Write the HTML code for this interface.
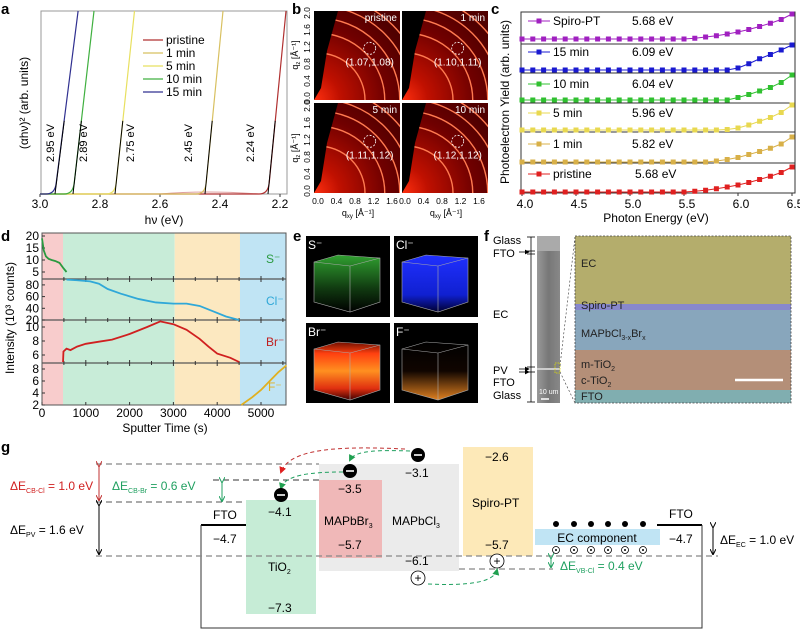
<!DOCTYPE html>
<html><head><meta charset="utf-8"><style>
html,body{margin:0;padding:0;background:#fff}
svg{display:block;font-family:"Liberation Sans",Arial,sans-serif}
text{font-family:"Liberation Sans",Arial,sans-serif}
</style></head><body>
<svg id="fig" xmlns="http://www.w3.org/2000/svg" width="800" height="631" viewBox="0 0 800 631">
<defs>
<radialGradient id="gb" cx="0" cy="1" r="1.2"><stop offset="0" stop-color="#ff3010"/><stop offset="0.25" stop-color="#c01000"/><stop offset="0.7" stop-color="#700000"/><stop offset="1" stop-color="#500000"/></radialGradient>
<linearGradient id="cubeS" x1="0" y1="0" x2="0" y2="1"><stop offset="0" stop-color="#30a030"/><stop offset="0.6" stop-color="#103810"/><stop offset="1" stop-color="#000"/></linearGradient>
<linearGradient id="cubeCl" x1="0" y1="0" x2="0" y2="1"><stop offset="0" stop-color="#2030ff"/><stop offset="0.7" stop-color="#1020d0"/><stop offset="1" stop-color="#000030"/></linearGradient>
<linearGradient id="cubeBr" x1="0" y1="0" x2="0" y2="1"><stop offset="0" stop-color="#701000"/><stop offset="0.2" stop-color="#ff4010"/><stop offset="0.5" stop-color="#ff9020"/><stop offset="0.8" stop-color="#e03010"/><stop offset="1" stop-color="#400000"/></linearGradient>
<linearGradient id="cubeF" x1="0" y1="0" x2="0" y2="1"><stop offset="0" stop-color="#000"/><stop offset="0.5" stop-color="#100500"/><stop offset="1" stop-color="#e08020"/></linearGradient>
<linearGradient id="sem" x1="0" y1="0" x2="1" y2="0"><stop offset="0" stop-color="#999"/><stop offset="0.5" stop-color="#777"/><stop offset="1" stop-color="#888"/></linearGradient>
<marker id="ah" markerWidth="6" markerHeight="6" refX="5" refY="3" orient="auto"><path d="M0,0 L6,3 L0,6 z" fill="#000"/></marker>
<marker id="ahr" markerWidth="7" markerHeight="7" refX="5" refY="3.5" orient="auto"><path d="M0,0 L7,3.5 L0,7 z" fill="#e02020"/></marker>
<marker id="ahg" markerWidth="7" markerHeight="7" refX="5" refY="3.5" orient="auto"><path d="M0,0 L7,3.5 L0,7 z" fill="#20a050"/></marker>
<marker id="ahrr" markerWidth="6" markerHeight="6" refX="5" refY="3" orient="auto"><path d="M0,0 L6,3 L0,6" fill="none" stroke="#c03030"/></marker>
<marker id="ahgg" markerWidth="6" markerHeight="6" refX="5" refY="3" orient="auto"><path d="M0,0 L6,3 L0,6" fill="none" stroke="#20a060"/></marker>
<marker id="ahk" markerWidth="6" markerHeight="6" refX="5" refY="3" orient="auto"><path d="M0,0 L6,3 L0,6" fill="none" stroke="#000"/></marker>
<clipPath id="cb1"><rect x="314" y="11" width="86" height="89"/></clipPath>
<clipPath id="cb2"><rect x="402" y="11" width="86" height="89"/></clipPath>
<clipPath id="cb3"><rect x="314" y="103" width="86" height="90"/></clipPath>
<clipPath id="cb4"><rect x="402" y="103" width="86" height="90"/></clipPath>
</defs>

<g font-weight="bold" font-size="15">
<text x="1" y="14">a</text><text x="292" y="14">b</text><text x="491" y="14">c</text>
<text x="1" y="241">d</text><text x="293" y="241">e</text><text x="484" y="241">f</text>
<text x="1" y="452">g</text>
</g>

<g id="pa"></g>
<g id="pb"></g>
<g id="pc"></g>
<g id="pd"></g>

<g font-size="12" fill="#fff">
<rect x="306" y="236" width="84" height="81" fill="#000"/>
<rect x="394" y="236" width="84" height="81" fill="#000"/>
<rect x="306" y="323" width="84" height="80" fill="#000"/>
<rect x="394" y="323" width="84" height="80" fill="#000"/>
<polygon points="314,262 338,255 380,258 380,302 350,312 314,302" fill="url(#cubeS)"/>
<polygon points="402,262 426,255 468,258 468,302 438,312 402,302" fill="url(#cubeCl)"/>
<polygon points="314,349 338,342 380,345 380,390 350,400 314,390" fill="url(#cubeBr)"/>
<polygon points="402,349 426,342 468,345 468,390 438,400 402,390" fill="url(#cubeF)"/>
<g fill="none" stroke="#aaa" stroke-width="0.6">
<polygon points="314,262 338,255 380,258 380,302 350,312 314,302"/><polygon points="402,262 426,255 468,258 468,302 438,312 402,302"/>
<polygon points="314,349 338,342 380,345 380,390 350,400 314,390"/><polygon points="402,349 426,342 468,345 468,390 438,400 402,390"/>
<line x1="350" y1="266" x2="350" y2="312"/><line x1="438" y1="266" x2="438" y2="312"/>
<line x1="350" y1="353" x2="350" y2="400"/><line x1="438" y1="353" x2="438" y2="400"/>
<polyline points="314,262 350,266 380,258"/><polyline points="402,262 438,266 468,258"/>
<polyline points="314,349 350,353 380,345"/><polyline points="402,349 438,353 468,345"/>
</g>
<text x="308" y="249">S⁻</text><text x="396" y="249">Cl⁻</text><text x="308" y="336">Br⁻</text><text x="396" y="336">F⁻</text>
</g>

<g font-size="11">
<rect x="537" y="236" width="23" height="167" fill="url(#sem)"/>
<rect x="537" y="236" width="23" height="15" fill="#aaa"/>
<rect x="537" y="368" width="23" height="2" fill="#ccc"/>
<rect x="555" y="363" width="5" height="10" fill="none" stroke="#dd0" stroke-dasharray="1.5,1" stroke-width="0.8"/>
<line x1="541" y1="399" x2="549" y2="399" stroke="#fff" stroke-width="1.5"/>
<text x="539" y="394" font-size="7" fill="#fff">10 um</text>
<g stroke="#000" stroke-width="0.8">
<line x1="531" y1="237" x2="531" y2="402"/>
<line x1="527" y1="237" x2="535" y2="237"/><line x1="527" y1="251" x2="535" y2="251"/><line x1="527" y1="254" x2="535" y2="254"/>
<line x1="527" y1="367" x2="535" y2="367"/><line x1="527" y1="372" x2="535" y2="372"/><line x1="527" y1="402" x2="535" y2="402"/>
<line x1="519" y1="252" x2="529" y2="252" marker-end="url(#ah)"/><line x1="519" y1="369" x2="529" y2="369" marker-end="url(#ah)"/><line x1="519" y1="372" x2="529" y2="372" marker-end="url(#ah)"/>
</g>
<text x="493" y="244">Glass</text><text x="493" y="257">FTO</text><text x="493" y="318">EC</text>
<text x="493" y="374">PV</text><text x="493" y="386">FTO</text><text x="493" y="399">Glass</text>
<line x1="560" y1="366" x2="575" y2="237" stroke="#333" stroke-dasharray="2,2" stroke-width="0.6"/>
<line x1="560" y1="372" x2="575" y2="403" stroke="#333" stroke-dasharray="2,2" stroke-width="0.6"/>
<g>
<rect x="575" y="236" width="216" height="68" fill="#b4ad6c"/>
<rect x="575" y="304" width="216" height="6" fill="#8888cc"/>
<rect x="575" y="310" width="216" height="40" fill="#88a6bc"/>
<rect x="575" y="350" width="216" height="40" fill="#b48f78"/>
<rect x="575" y="390" width="216" height="13" fill="#80aeb0"/>
<rect x="575" y="236" width="216" height="167" fill="none" stroke="#444" stroke-dasharray="2,1.5" stroke-width="0.8"/>
</g>
<g font-size="11" fill="#222">
<text x="581" y="267">EC</text><text x="581" y="309">Spiro-PT</text>
<text x="581" y="337">MAPbCl<tspan font-size="7" dy="3">3-x</tspan><tspan dy="-3">Br</tspan><tspan font-size="7" dy="3">x</tspan></text>
<text x="581" y="368">m-TiO<tspan font-size="7" dy="3">2</tspan></text>
<text x="581" y="384">c-TiO<tspan font-size="7" dy="3">2</tspan></text>
<text x="581" y="400">FTO</text>
</g>
<line x1="735" y1="380" x2="783" y2="380" stroke="#fff" stroke-width="2.5"/>
</g>

<g font-size="11">
<rect x="319" y="464" width="140" height="107" fill="#ebebeb"/>
<rect x="319" y="480" width="63" height="78" fill="#f0b8b8"/>
<rect x="246" y="500" width="70" height="114" fill="#c6ecd6"/>
<rect x="463" y="447" width="70" height="109" fill="#fde9b8"/>
<rect x="535" y="529" width="125" height="16" fill="#c0e4f4"/>
<g fill="none" stroke-width="1">
<line x1="201" y1="525" x2="246" y2="525" stroke="#000" stroke-width="2"/>
<line x1="657" y1="525" x2="702" y2="525" stroke="#000" stroke-width="2"/>
<polyline points="201,525 201,628 702,628 702,525" stroke="#333"/>
<line x1="96" y1="464" x2="319" y2="464" stroke="#888" stroke-dasharray="6,4" stroke-width="1.3"/>
<line x1="213" y1="480" x2="319" y2="480" stroke="#333" stroke-dasharray="6,4" stroke-width="1"/>
<line x1="96" y1="502" x2="246" y2="502" stroke="#555" stroke-dasharray="6,4" stroke-width="1"/>
<line x1="96" y1="556" x2="718" y2="556" stroke="#888" stroke-dasharray="6,4" stroke-width="1.3"/>
<line x1="459" y1="569" x2="553" y2="569" stroke="#888" stroke-dasharray="6,4" stroke-width="1.3"/>
<line x1="99" y1="466" x2="99" y2="500" stroke="#c03030" marker-start="url(#ahrr)" marker-end="url(#ahrr)"/>
<line x1="99" y1="505" x2="99" y2="554" stroke="#000" marker-start="url(#ahk)" marker-end="url(#ahk)"/>
<line x1="222" y1="482" x2="222" y2="501" stroke="#20a060" marker-start="url(#ahgg)" marker-end="url(#ahgg)"/>
<line x1="713" y1="527" x2="713" y2="554" stroke="#000" marker-start="url(#ahk)" marker-end="url(#ahk)"/>
<line x1="551" y1="558" x2="551" y2="567" stroke="#20a060" marker-start="url(#ahgg)" marker-end="url(#ahgg)"/>
<path d="M405,449 C340,446 290,448 281,472" stroke="#c03030" stroke-dasharray="4,3" marker-end="url(#ahr)"/>
<path d="M410,451 C380,450 355,450 350,460" stroke="#20a060" stroke-dasharray="4,3" marker-end="url(#ahg)"/>
<path d="M343,472 C310,472 285,475 281,488" stroke="#20a060" stroke-dasharray="4,3" marker-end="url(#ahg)"/>
<path d="M428,584 C470,586 494,582 497,570" stroke="#20a060" stroke-dasharray="4,3" marker-end="url(#ahg)"/>
</g>
<g>
<circle cx="418" cy="455" r="7" fill="#000"/><circle cx="350" cy="471" r="7" fill="#000"/><circle cx="281" cy="495" r="7" fill="#000"/>
<g stroke="#fff" stroke-width="1.6"><line x1="414" y1="455" x2="422" y2="455"/><line x1="346" y1="471" x2="354" y2="471"/><line x1="277" y1="495" x2="285" y2="495"/></g>
<g fill="#000"><circle cx="556" cy="524" r="3"/><circle cx="574" cy="524" r="3"/><circle cx="591" cy="524" r="3"/><circle cx="608" cy="524" r="3"/><circle cx="625" cy="524" r="3"/><circle cx="643" cy="524" r="3"/></g>
</g>
<g fill="#fff" stroke="#000" stroke-width="0.8">
<circle cx="497" cy="561" r="7"/><circle cx="418" cy="578" r="7"/>
<circle cx="556" cy="550" r="3.5"/><circle cx="574" cy="550" r="3.5"/><circle cx="591" cy="550" r="3.5"/><circle cx="608" cy="550" r="3.5"/><circle cx="625" cy="550" r="3.5"/><circle cx="643" cy="550" r="3.5"/>
</g>
<g fill="#000"><circle cx="556" cy="550" r="1"/><circle cx="574" cy="550" r="1"/><circle cx="591" cy="550" r="1"/><circle cx="608" cy="550" r="1"/><circle cx="625" cy="550" r="1"/><circle cx="643" cy="550" r="1"/></g>
<g font-size="12" text-anchor="middle"><text x="497" y="565">+</text><text x="418" y="582">+</text></g>
<g font-size="12">
<text x="10" y="490" fill="#d02020">ΔE<tspan font-size="7" dy="3">CB-Cl</tspan><tspan dy="-3"> = 1.0 eV</tspan></text>
<text x="112" y="490" fill="#20a060">ΔE<tspan font-size="7" dy="3">CB-Br</tspan><tspan dy="-3"> = 0.6 eV</tspan></text>
<text x="10" y="534">ΔE<tspan font-size="7" dy="3">PV</tspan><tspan dy="-3"> = 1.6 eV</tspan></text>
<text x="720" y="544">ΔE<tspan font-size="7" dy="3">EC</tspan><tspan dy="-3"> = 1.0 eV</tspan></text>
<text x="560" y="570" fill="#20a060">ΔE<tspan font-size="7" dy="3">VB-Cl</tspan><tspan dy="-3"> = 0.4 eV</tspan></text>
<text x="213" y="519">FTO</text><text x="213" y="543">−4.7</text>
<text x="268" y="516">−4.1</text><text x="268" y="571">TiO<tspan font-size="7" dy="3">2</tspan></text><text x="268" y="612">−7.3</text>
<text x="338" y="493">−3.5</text><text x="324" y="525">MAPbBr<tspan font-size="7" dy="3">3</tspan></text><text x="338" y="549">−5.7</text>
<text x="392" y="525">MAPbCl<tspan font-size="7" dy="3">3</tspan></text>
<text x="405" y="477">−3.1</text><text x="405" y="565">−6.1</text>
<text x="485" y="461">−2.6</text><text x="472" y="507">Spiro-PT</text><text x="485" y="549">−5.7</text>
<text x="597" y="542" text-anchor="middle">EC component</text>
<text x="669" y="518">FTO</text><text x="669" y="543">−4.7</text>
</g>
</g>
</svg>

<script>
const NS = 'http://www.w3.org/2000/svg';
function mk(tag, attrs, parent) {
  const e = document.createElementNS(NS, tag);
  for (const k in attrs) e.setAttribute(k, attrs[k]);
  parent.appendChild(e);
  return e;
}
function txt(parent, x, y, s, attrs) {
  const t = mk('text', Object.assign({x: x, y: y}, attrs || {}), parent);
  t.textContent = s;
  return t;
}

/* ---------- panel a data ---------- */
const aLabels = ['pristine', '1 min', '5 min', '10 min', '15 min'];
const aGaps = [2.24, 2.45, 2.75, 2.89, 2.95];
const aTopEnergy = [2.18, 2.39, 2.685, 2.82, 2.873];
const aColors = ['#b03030', '#d8c060', '#e8e060', '#40b040', '#303090'];
const aTicks = [3.0, 2.8, 2.6, 2.4, 2.2];
const aLabelOffset = [-18, -17, 15, 10, -5];

/* ---------- panel c data ---------- */
const cEnergy = [4.0,4.1,4.2,4.3,4.4,4.5,4.6,4.7,4.8,4.9,5.0,5.1,5.2,5.3,5.4,5.5,5.6,5.7,5.8,5.9,6.0,6.1,6.2,6.3,6.4,6.5];
const cNames = ['Spiro-PT', '15 min', '10 min', '5 min', '1 min', 'pristine'];
const cIP = ['5.68 eV', '6.09 eV', '6.04 eV', '5.96 eV', '5.82 eV', '5.68 eV'];
const cSpiro = [0,0,0,0,0,0,0,0,0,0,0,0,0,0,0,0,0.03,0.08,0.13,0.2,0.28,0.38,0.5,0.63,0.78,1.0];
const c15 = [0,0,0,0,0,0,0,0,0,0,0,0,0,0,0,0,0,0,0,0,0.08,0.25,0.45,0.62,0.8,1.0];
const c10 = [0,0,0,0,0,0,0,0,0,0,0,0,0,0,0,0,0,0,0,0,0.1,0.22,0.36,0.5,0.7,1.0];
const c5 = [0,0,0,0,0,0,0,0,0,0,0,0,0,0,0,0,0,0,0,0.02,0.08,0.2,0.35,0.5,0.7,1.0];
const c1 = [0,0,0,0,0,0,0,0,0,0,0,0,0,0,0,0,0,0,0.04,0.1,0.18,0.3,0.42,0.55,0.72,1.0];
const cPristine = [0,0,0,0,0,0,0,0,0,0,0,0,0,0,0,0,0.03,0.07,0.13,0.2,0.28,0.38,0.5,0.63,0.78,1.0];
const cColors = ['#a020c0', '#1a1ad0', '#30c030', '#e8d850', '#d8b048', '#e02020'];
const cTicks = [4.0, 4.5, 5.0, 5.5, 6.0, 6.5];

/* ---------- panel d data ---------- */
const dSTime = [0,40,90,150,220,300,400,480,560];
const dSVal = [19,14,11.5,10.5,10,9.6,8.8,6.8,5];
const dClTime = [560,800,1100,1300,1500,1800,2200,2600,3000,3300,3600,3900,4200,4500];
const dClVal = [89,88,86,82,73,65,56,50,48,48,44,35,26,20];
const dBrTime = [480,490,560,650,800,1000,1300,1600,2000,2400,2700,3000,3300,3600,3800,4000,4300,4500];
const dBrVal = [5,6.5,6.9,6.7,7.2,7.6,7.9,8.2,9.0,10.0,10.8,10.4,9.6,8.3,7.2,6.2,5.6,5.0];
const dFTime = [4550,4800,5000,5200,5400,5580];
const dFVal = [2,3.3,4.5,6,7.5,8.6];
const dXTicks = [0,1000,2000,3000,4000,5000];
const dSTicks = [5,10,15,20];
const dClTicks = [20,40,60,80];
const dBrTicks = [6,8,10];
const dFTicks = [2,4,6,8];

/* ---------- draw panel a ---------- */
(function(){
  const g = document.getElementById('pa');
  const L = 41, R = 287, T = 11, B = 194;
  const xA = v => 40 + (3.0 - v) * 300;
  const yA = f => B - f * (B - T);
  const frame = mk('rect', {x: L, y: T, width: R - L, height: B - T, fill: 'none', stroke: '#999'}, g);
  
  
  aTicks.forEach(v => {
    mk('line', {x1: xA(v), y1: B, x2: xA(v), y2: B + 3, stroke: '#333'}, g);
    const t = txt(g, xA(v), 208, v.toFixed(1), {'font-size': 12, 'text-anchor': 'middle'});
    
    
  });
  const xl = txt(g, 164, 224, 'hν (eV)', {'font-size': 12, 'text-anchor': 'middle'});
  
  
  const yl = txt(g, 0, 0, '(αhν)² (arb. units)', {'font-size': 12, 'text-anchor': 'middle', transform: 'translate(28,103) rotate(-90)'});
  
  
  mk('path', {d: 'M' + xA(2.6) + ',' + B + ' Q' + xA(2.45) + ',' + (B - 4) + ' ' + xA(2.27) + ',' + B, fill: 'none', stroke: '#e0a0a0', 'stroke-width': 1}, g);
  aGaps.forEach((gap, i) => {
    const top = aTopEnergy[i];
    const x0 = xA(gap + 0.03), xg = xA(gap), xt = xA(top);
    const p = mk('path', {d: 'M' + xA(3.0) + ',' + B + ' L' + x0 + ',' + B + ' Q' + xg + ',' + B + ' ' + xA(gap - 0.004) + ',' + yA(0.06) + ' L' + xt + ',' + T, fill: 'none', stroke: aColors[i], 'stroke-width': 1.2}, g);
    
    
    const tl = mk('line', {x1: xg, y1: B, x2: xg + (xt - xg) * 0.4, y2: yA(0.4), stroke: '#000', 'stroke-width': 1}, g);
    
    
    const lb = txt(g, 0, 0, gap.toFixed(2) + ' eV', {'font-size': 11, 'text-anchor': 'middle', transform: 'translate(' + (xg + aLabelOffset[i] + 4) + ',143) rotate(-90)'});
    
    
    const ly = 40 + i * 13;
    const ll = mk('line', {x1: 143, y1: ly, x2: 163, y2: ly, stroke: aColors[i], 'stroke-width': 1.3}, g);
    
    
    const lt = txt(g, 166, ly + 4, aLabels[i], {'font-size': 12});
    
    
  });
})();

/* ---------- draw panel b (GIWAXS images) ---------- */
(function(){
  const g = document.getElementById('pb');
  const imgs = [[314,11,86,89,'cb1','pristine','(1.07,1.08)'],[402,11,86,89,'cb2','1 min','(1.10,1.11)'],[314,103,86,90,'cb3','5 min','(1.11,1.12)'],[402,103,86,90,'cb4','10 min','(1.12,1.12)']];
  const s = 47;
  imgs.forEach(im => {
    const [x, y, w, h, clip, lab, pk] = im;
    const gg = mk('g', {'clip-path': 'url(#' + clip + ')'}, g);
    
    
    mk('rect', {x: x, y: y, width: w, height: h, fill: 'url(#gb)'}, gg);
    const ox = x + 4, oy = y + h;
    [1.0, 1.42, 1.74, 2.0, 2.25].forEach(r => {
      mk('circle', {cx: ox, cy: oy, r: r * s, fill: 'none', stroke: '#ff7a50', 'stroke-width': 1.4}, gg);
    });
    mk('polygon', {points: x + ',' + y + ' ' + (x + 24) + ',' + y + ' ' + (x + 13) + ',' + (y + 40) + ' ' + (x + 7) + ',' + (y + h - 12) + ' ' + x + ',' + (y + h), fill: '#000'}, gg);
    mk('circle', {cx: ox + 1.1 * s, cy: oy - 1.1 * s, r: 6, fill: 'none', stroke: '#fff', 'stroke-dasharray': '2,1.5', 'stroke-width': 0.8}, gg);
    txt(gg, x + w - 3, y + 10, lab, {'font-size': 10, fill: '#fff', 'text-anchor': 'end'});
    txt(gg, ox + 1.1 * s, oy - 1.1 * s + 17, pk, {'font-size': 10, fill: '#fff', 'text-anchor': 'middle'});
  });
  ['0.0','0.4','0.8','1.2','1.6'].forEach((t, i) => {
    [318, 405].forEach(x0 => txt(g, x0 + i * 18.5, 204, t, {'font-size': 8.5, 'text-anchor': 'middle'}));
  });
  [358, 446].forEach(cx => {
    const t = mk('text', {x: cx, y: 216, 'font-size': 9, 'text-anchor': 'middle'}, g);
    t.innerHTML = 'q<tspan font-size="6" dy="2">xy</tspan><tspan dy="-2"> [Å⁻¹]</tspan>';
  });
  ['0.0','0.4','0.8','1.2','1.6','2.0'].forEach((t, i) => {
    [98, 191].forEach(b => txt(g, 0, 0, t, {'font-size': 8.5, 'text-anchor': 'middle', transform: 'translate(310,' + (b - i * 17) + ') rotate(-90)'}));
  });
  [55, 148].forEach(cy => {
    const t = mk('text', {x: 0, y: 0, 'font-size': 9, 'text-anchor': 'middle', transform: 'translate(298,' + cy + ') rotate(-90)'}, g);
    t.innerHTML = 'q<tspan font-size="6" dy="2">z</tspan><tspan dy="-2"> [Å⁻¹]</tspan>';
  });
})();

/* ---------- draw panel c ---------- */
(function(){
  const g = document.getElementById('pc');
  const L = 521, R = 795, T = 12, B = 193;
  const xC = e => 522 + (e - 4.0) * 108;
  const baselines = [39, 70, 100, 130, 162, 192];
  const series = [cSpiro, c15, c10, c5, c1, cPristine];
  const labelY = [25, 56, 88, 117, 148, 178];
  const frame = mk('rect', {x: L, y: T, width: R - L, height: B - T, fill: 'none', stroke: '#333'}, g);
  
  
  [44, 73, 103, 132, 163].forEach(y => mk('line', {x1: L, y1: y, x2: R, y2: y, stroke: '#333'}, g));
  cTicks.forEach(v => {
    mk('line', {x1: xC(v), y1: B, x2: xC(v), y2: B + 3, stroke: '#333'}, g);
    const t = txt(g, xC(v) + 3, 208, v.toFixed(1), {'font-size': 12, 'text-anchor': 'middle'});
    
    
  });
  const xl = txt(g, 656, 222, 'Photon Energy (eV)', {'font-size': 12, 'text-anchor': 'middle'});
  
  
  const yl = txt(g, 0, 0, 'Photoelectron Yield (arb. units)', {'font-size': 12, 'text-anchor': 'middle', transform: 'translate(509,102) rotate(-90)'});
  
  
  series.forEach((vals, si) => {
    const yb = baselines[si];
    const pts = cEnergy.map((e, i) => xC(e) + ',' + (yb - vals[i] * 25));
    const pl = mk('polyline', {points: pts.join(' '), fill: 'none', stroke: cColors[si], 'stroke-width': 1}, g);
    
    
    cEnergy.forEach((e, i) => {
      const m = mk('rect', {x: xC(e) - 2.5, y: yb - vals[i] * 25 - 2.5, width: 5, height: 5, fill: cColors[si]}, g);
      
      
    });
    const ly = labelY[si];
    mk('line', {x1: 528, y1: ly - 4, x2: 550, y2: ly - 4, stroke: cColors[si]}, g);
    mk('rect', {x: 536.5, y: ly - 6.5, width: 5, height: 5, fill: cColors[si]}, g);
    const lt = txt(g, 553, ly, cNames[si], {'font-size': 12});
    
    
    const ip = txt(g, si === 5 ? 635 : 632, ly, cIP[si], {'font-size': 12});
    
    
  });
})();

/* ---------- draw panel d ---------- */
(function(){
  const g = document.getElementById('pd');
  const L = 42, R = 286;
  const xD = t => 42 + t * 0.0438;
  const yS = v => 272 - (v - 5) * 2.4;
  const yCl = v => 320 - (v - 20) * 0.585;
  const yBr = v => 355 - (v - 6) * 7;
  const yF = v => 405 - (v - 2) * 6;
  const bands = [[0, 480, '#f8cccc'], [480, 3030, '#c8ecd8'], [3030, 4520, '#fce8c0'], [4520, 5580, '#c0e4f4']];
  bands.forEach(b => {
    const r = mk('rect', {x: xD(b[0]), y: 233, width: xD(b[1]) - xD(b[0]), height: 172, fill: b[2]}, g);
    
    
  });
  mk('rect', {x: L, y: 233, width: R - L, height: 172, fill: 'none', stroke: '#555'}, g);
  [279, 320, 363].forEach(y => {
    mk('line', {x1: L, y1: y, x2: R, y2: y, stroke: '#555', 'stroke-width': 1.3}, g);
    for (let t = 500; t < 5580; t += 500) mk('line', {x1: xD(t), y1: y - (t % 1000 ? 2 : 3), x2: xD(t), y2: y + (t % 1000 ? 2 : 3), stroke: '#333'}, g);
  });
  dXTicks.forEach(t => {
    mk('line', {x1: xD(t), y1: 405, x2: xD(t), y2: 402, stroke: '#333'}, g);
    const lb = txt(g, xD(t), 417, String(t), {'font-size': 12, 'text-anchor': 'middle'});
    
    
  });
  const yt = (ticks, f) => ticks.forEach(v => {
    mk('line', {x1: L, y1: f(v), x2: L + 3, y2: f(v), stroke: '#333'}, g);
    const lb = txt(g, L - 3, f(v) + 4, String(v), {'font-size': 12, 'text-anchor': 'end'});
    
    
  });
  yt(dSTicks, yS); yt(dClTicks, yCl); yt(dBrTicks, yBr); yt(dFTicks, yF);
  const line = (ts, vs, f, col, name) => {
    const p = mk('polyline', {points: ts.map((t, i) => xD(t) + ',' + f(vs[i])).join(' '), fill: 'none', stroke: col, 'stroke-width': 1.8}, g);
    
    
  };
  line(dSTime, dSVal, yS, '#2a9a40', 'series-s');
  line(dClTime, dClVal, yCl, '#30a8d8', 'series-cl');
  line(dBrTime, dBrVal, yBr, '#d02020', 'series-br');
  line(dFTime, dFVal, yF, '#e0b020', 'series-f');
  const lab = (x, y, s, c) => { const t = txt(g, x, y, s, {'font-size': 12, fill: c});   };
  lab(266, 263, 'S⁻', '#2a9a40'); lab(266, 305, 'Cl⁻', '#30a8d8'); lab(266, 346, 'Br⁻', '#c02020'); lab(268, 391, 'F⁻', '#e0b020');
  const xl = txt(g, 165, 432, 'Sputter Time (s)', {'font-size': 12, 'text-anchor': 'middle'});
  
  
  const yl = txt(g, 0, 0, 'Intensity (10³ counts)', {'font-size': 12, 'text-anchor': 'middle', transform: 'translate(14,318) rotate(-90)'});
  
  
})();
</script>
</body></html>
